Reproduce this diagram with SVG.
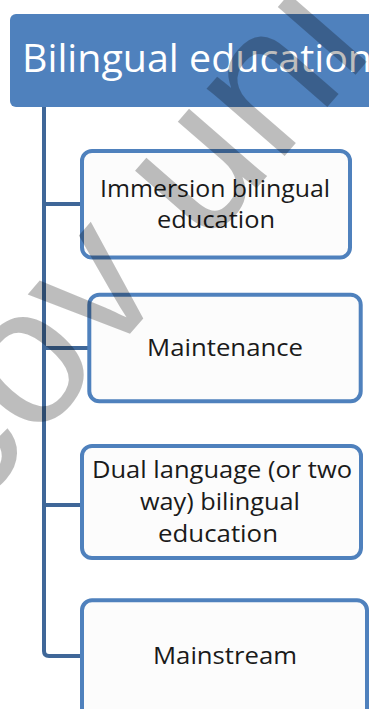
<svg xmlns="http://www.w3.org/2000/svg" width="369" height="709" viewBox="0 0 369 709">
<style>
.box{fill:#FCFCFC;stroke:#4F81BD;stroke-width:4}
.lbl{font-family:"Open Sans","Liberation Sans",sans-serif;font-size:23px;fill:#1a1a1a;text-anchor:middle}
.conn{fill:none;stroke:#3F6798;stroke-width:4}
.wm{font-family:"Liberation Sans",Arial,sans-serif;font-size:195px;fill:#000;fill-opacity:0.26}
</style>
<rect width="369" height="709" fill="#FFFFFF"/>
<g id="root">
<rect x="10" y="14" width="380" height="93" rx="6" fill="#4F81BD"/>
<text x="22" y="72" font-family="'Open Sans','Liberation Sans',sans-serif" font-size="38" fill="#FFFFFF" textLength="350" lengthAdjust="spacingAndGlyphs">Bilingual education</text>
</g>
<g id="connectors">
<path class="conn" d="M44,107 V651 Q44,656 49,656 H82"/>
<path class="conn" d="M44,204 H82"/>
<path class="conn" d="M44,348 H89"/>
<path class="conn" d="M44,505 H82"/>
</g>
<g id="n1">
<rect class="box" x="82" y="151" width="268" height="106.5" rx="10"/>
<text class="lbl" x="215" y="197" textLength="230" lengthAdjust="spacingAndGlyphs">Immersion bilingual</text>
<text class="lbl" x="216" y="228" textLength="118" lengthAdjust="spacingAndGlyphs">education</text>
</g>
<g id="n2">
<rect class="box" x="89.3" y="294.7" width="271.4" height="106.6" rx="10"/>
<text class="lbl" x="225" y="356" textLength="156" lengthAdjust="spacingAndGlyphs">Maintenance</text>
</g>
<g id="n3">
<rect class="box" x="82" y="446" width="279" height="112" rx="10"/>
<text class="lbl" x="222" y="478" textLength="260" lengthAdjust="spacingAndGlyphs">Dual language (or two</text>
<text class="lbl" x="220" y="510" textLength="160" lengthAdjust="spacingAndGlyphs">way) bilingual</text>
<text class="lbl" x="218" y="542" textLength="120" lengthAdjust="spacingAndGlyphs">education</text>
</g>
<g id="n4">
<rect class="box" x="82" y="600.3" width="285" height="120" rx="10"/>
<text class="lbl" x="225" y="664" textLength="144" lengthAdjust="spacingAndGlyphs">Mainstream</text>
</g>
<text class="wm" transform="translate(-30,518) rotate(-49)">cov uni</text>
</svg>
